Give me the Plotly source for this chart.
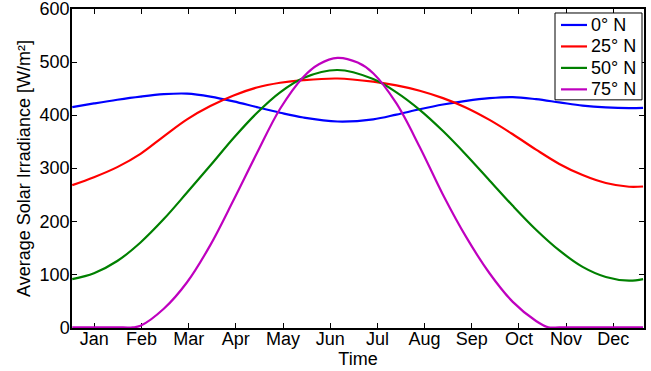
import plotly.graph_objects as go

# Day of year at which readings were taken
days = [1, 15, 30, 45, 60, 75, 90, 105, 120, 135, 150, 172, 195,
        210, 225, 240, 255, 270, 285, 300, 315, 330, 345, 360, 369]

lat0 = [415, 422, 429, 435, 439.5, 440.5, 435, 426, 415, 404.5, 395.5, 388, 392,
        401, 411, 420, 427, 432, 434, 430, 424, 418, 414.5, 413, 413.5]
lat25 = [268, 283, 302, 327, 360, 392, 417, 437, 452, 461, 466, 469, 463,
         456, 446, 432, 414, 391, 364, 335, 308, 287, 272, 265, 265.5]
lat50 = [91, 102, 125, 160, 204, 254, 305, 357, 404, 443, 470, 485, 468,
         443, 410, 370, 325, 277, 229, 184, 145, 114, 95, 88, 91]

days75 = [1, 15, 30, 40, 45, 60, 75, 90, 105, 120, 135, 150, 160, 172, 185, 195,
          210, 225, 240, 255, 270, 285, 300, 308, 315, 330, 345, 360, 369]
lat75 = [0, 0, 0, 0, 3, 35, 85, 155, 240, 328, 412, 472, 496, 508, 499, 479,
         422, 340, 250, 170, 102, 48, 12, 0, 0, 0, 0, 0, 0]

months = ["Jan", "Feb", "Mar", "Apr", "May", "Jun", "Jul", "Aug", "Sep", "Oct", "Nov", "Dec"]
year_days = 365

series = [
    ("0° N", days, lat0, "#0000ff"),
    ("25° N", days, lat25, "#ff0000"),
    ("50° N", days, lat50, "#008000"),
    ("75° N", days75, lat75, "#bf00bf"),
]

FONT = "Liberation Sans, Arial, Helvetica, sans-serif"
FS = 18

fig = go.Figure()
for name, xs, ys, col in series:
    fig.add_trace(go.Scatter(x=xs, y=ys, mode="lines", name=name, showlegend=False,
                             line=dict(color=col, width=2.2, shape="spline", smoothing=1.0)))

# Custom legend box (MATLAB style), in pixel-derived paper coordinates
W, H = 651, 371
L, R, T, B = 72, 7, 9, 42.5
pw, ph = W - L - R, H - T - B


def px2x(px):
    return (px - L) / pw


def py2y(py):
    return (H - B - py) / ph


shapes = [dict(type="rect", xref="paper", yref="paper",
               x0=px2x(555), x1=px2x(642), y0=py2y(100), y1=py2y(13),
               line=dict(color="black", width=1), fillcolor="white", layer="above")]
annotations = []
rows = [25, 46.5, 68, 89.5]
for (name, xs, ys, col), ry in zip(series, rows):
    shapes.append(dict(type="line", xref="paper", yref="paper",
                       x0=px2x(561), x1=px2x(587), y0=py2y(ry), y1=py2y(ry),
                       line=dict(color=col, width=2.2), layer="above"))
    annotations.append(dict(xref="paper", yref="paper", x=px2x(589), y=py2y(ry),
                            xanchor="left", yanchor="middle", text=name, showarrow=False,
                            font=dict(size=FS, family=FONT, color="black")))

tickvals = [(i + 0.5) * year_days / 12 for i in range(12)]

fig.update_layout(
    width=W, height=H,
    margin=dict(l=L, r=R, t=T, b=B),
    paper_bgcolor="white", plot_bgcolor="white",
    font=dict(family=FONT, size=FS, color="black"),
    showlegend=False,
    shapes=shapes, annotations=annotations,
)
fig.update_xaxes(range=[0.83, 369.6], tickmode="array", tickvals=tickvals, ticktext=months,
                 ticks="inside", ticklen=5, tickwidth=1, tickcolor="black",
                 showline=True, linecolor="black", linewidth=1.5, mirror="ticks",
                 showgrid=False, zeroline=False, layer="below traces", automargin=False,
                 ticklabelstandoff=-6,
                 title=dict(text="Time", standoff=0, font=dict(size=FS)))
fig.update_yaxes(range=[-1.2, 600], tickmode="array", tickvals=[0, 100, 200, 300, 400, 500, 600],
                 ticks="inside", ticklen=5, tickwidth=1, tickcolor="black",
                 showline=True, linecolor="black", linewidth=1.5, mirror="ticks",
                 showgrid=False, zeroline=False, ticklabeloverflow="allow", automargin=False,
                 ticklabelstandoff=-3,
                 title=dict(text="Average Solar Irradiance [W/m²]", standoff=4, font=dict(size=FS)))

fig.write_html("out.html", config={"displayModeBar": False},
               post_script="document.body.style.margin='0';")
